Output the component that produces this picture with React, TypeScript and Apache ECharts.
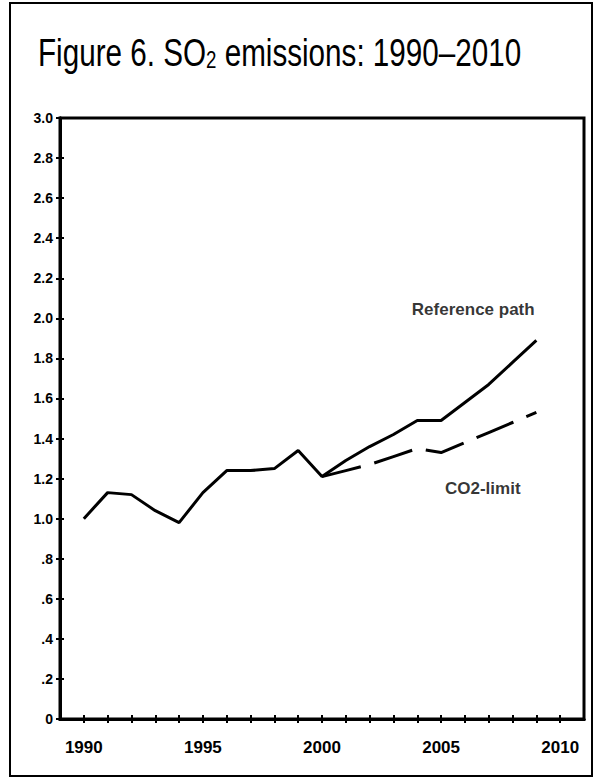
import React, { useEffect, useRef } from "react";
import * as echarts from "echarts";

const years = [1990, 1991, 1992, 1993, 1994, 1995, 1996, 1997, 1998, 1999, 2000, 2001, 2002, 2003, 2004, 2005, 2006, 2007, 2008, 2009];
const referencePath = [1.0, 1.13, 1.12, 1.04, 0.98, 1.13, 1.24, 1.24, 1.25, 1.34, 1.21, 1.29, 1.36, 1.42, 1.49, 1.49, 1.58, 1.67, 1.78, 1.89];
const co2Years = [2000, 2001, 2002, 2003, 2004, 2005, 2006, 2007, 2008, 2009];
const co2Limit = [1.21, 1.24, 1.27, 1.31, 1.35, 1.33, 1.38, 1.43, 1.48, 1.53];
const tickYears = [1990, 1991, 1992, 1993, 1994, 1995, 1996, 1997, 1998, 1999, 2000, 2001, 2002, 2003, 2004, 2005, 2006, 2007, 2008, 2009, 2010];
const labelYears = [1990, 1995, 2000, 2005, 2010];

const FONT = "'Liberation Sans', Arial, sans-serif";

export default function App() {
  const ref = useRef<HTMLDivElement>(null);
  useEffect(() => {
    if (!ref.current) return;
    const chart = echarts.init(ref.current, null, { renderer: "svg" });
    const yFmt = (v: number) => {
      if (Math.abs(v) < 1e-9) return "0";
      if (v < 1) return "." + Math.round(v * 10);
      return v.toFixed(1);
    };
    const xBase = {
      type: "value" as const,
      min: 1989,
      max: 2011,
      interval: 1,
      splitLine: { show: false },
      axisLine: { show: true, lineStyle: { color: "#000", width: 3 } },
    };
    const yBase = {
      type: "value" as const,
      min: 0,
      max: 3,
      interval: 0.2,
      splitLine: { show: false },
      axisLine: { show: true, lineStyle: { color: "#000", width: 3 } },
    };
    chart.setOption({
      animation: false,
      backgroundColor: "#fff",
      grid: {
        left: 60,
        right: 14,
        top: 118,
        bottom: 59,
        show: true,
        borderColor: "#000",
        borderWidth: 3,
        backgroundColor: "transparent",
      },
      xAxis: [
        {
          ...xBase,
          axisTick: { show: true, customValues: tickYears, length: 4, lineStyle: { color: "#000", width: 2 } },
          axisLabel: {
            customValues: labelYears,
            formatter: (v: number) => String(v),
            margin: 20,
            color: "#000",
            fontFamily: FONT,
            fontWeight: "bold",
            fontSize: 17,
          },
        },
        {
          ...xBase,
          position: "bottom",
          axisTick: { show: true, inside: true, customValues: tickYears, length: 4, lineStyle: { color: "#000", width: 2 } },
          axisLabel: { show: false },
        },
      ],
      yAxis: [
        {
          ...yBase,
          axisTick: { show: true, length: 4, lineStyle: { color: "#000", width: 2 } },
          axisLabel: {
            formatter: yFmt,
            margin: 7,
            color: "#000",
            fontFamily: FONT,
            fontWeight: "bold",
            fontSize: 14,
          },
        },
        {
          ...yBase,
          position: "left",
          axisTick: { show: true, inside: true, length: 4, lineStyle: { color: "#000", width: 2 } },
          axisLabel: { show: false },
        },
      ],
      graphic: [
        {
          type: "rect",
          shape: { x: 10, y: 3, width: 582, height: 773 },
          style: { fill: "none", stroke: "#000", lineWidth: 2 },
          silent: true,
        },
        {
          type: "text",
          x: 38,
          y: 26,
          scaleX: 0.78,
          silent: true,
          style: {
            text: "{a|Figure 6. SO}{b|2}{a| emissions: 1990–2010}",
            rich: {
              a: { fontFamily: FONT, fontSize: 38, fontWeight: "normal", fill: "#000", lineHeight: 46, verticalAlign: "bottom" },
              b: { fontFamily: FONT, fontSize: 24, fontWeight: "normal", fill: "#000", lineHeight: 46, verticalAlign: "bottom" },
            },
          },
        },
      ],
      series: [
        {
          name: "Reference path",
          type: "line",
          data: years.map((y, i) => [y, referencePath[i]]),
          symbol: "none",
          lineStyle: { color: "#000", width: 3 },
        },
        {
          name: "CO2-limit",
          type: "line",
          data: co2Years.map((y, i) => [y, co2Limit[i]]),
          symbol: "none",
          lineStyle: { color: "#000", width: 3, type: [40, 14] },
        },
        {
          name: "labels",
          type: "scatter",
          symbolSize: 0,
          data: [
            { value: [2006.35, 2.045], label: { formatter: "Reference path" } },
            { value: [2006.75, 1.153], label: { formatter: "CO2-limit" } },
          ],
          label: {
            show: true,
            position: "inside",
            color: "#000",
            fontFamily: FONT,
            fontWeight: "bold",
            fontSize: 17,
          },
          silent: true,
        },
      ],
    });
    return () => chart.dispose();
  }, []);
  return <div ref={ref} style={{ position: "absolute", left: 0, top: 0, width: 598, height: 778 }} />;
}
